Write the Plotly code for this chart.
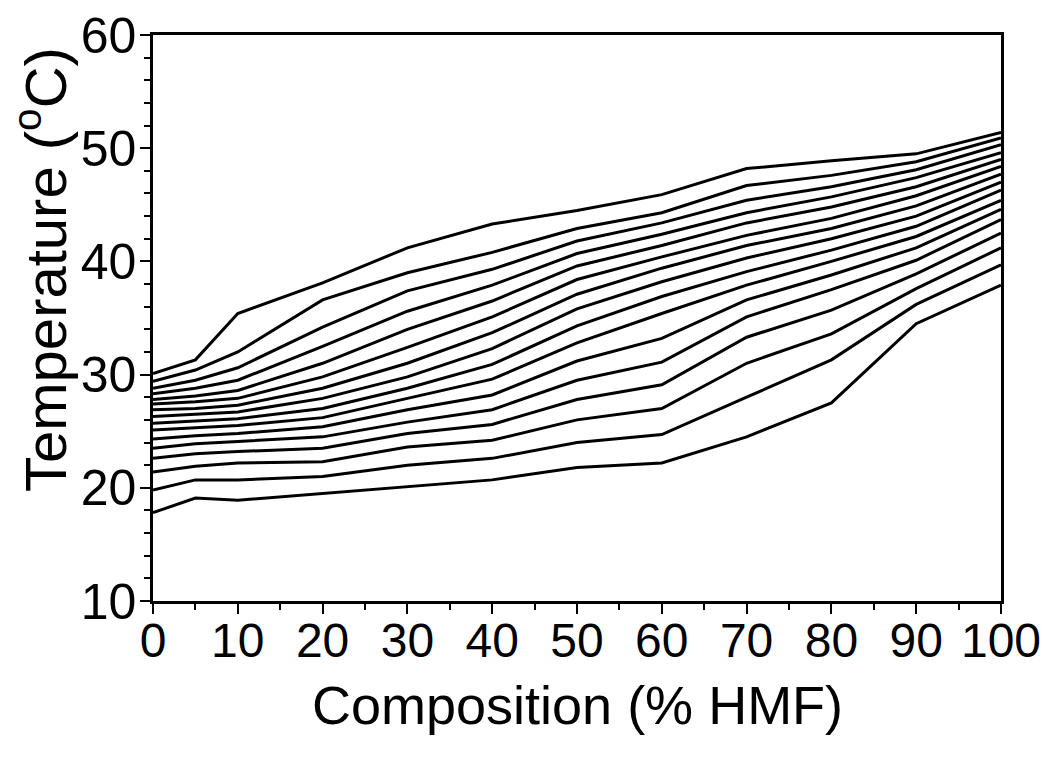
import plotly.graph_objects as go

composition = [0, 5, 10, 20, 30, 40, 50, 60, 70, 80, 90, 100]

# Temperature (°C) curves, bottom to top, one list per curve
c01 = [17.8, 19.1, 18.9, 19.5, 20.1, 20.7, 21.8, 22.2, 24.5, 27.5, 34.5, 37.9]
c02 = [19.8, 20.7, 20.7, 21.0, 22.0, 22.6, 24.0, 24.7, 28.0, 31.3, 36.2, 39.7]
c03 = [21.4, 21.9, 22.2, 22.3, 23.6, 24.2, 26.0, 27.0, 31.0, 33.6, 37.6, 41.2]
c04 = [22.6, 23.0, 23.2, 23.5, 24.8, 25.6, 27.8, 29.1, 33.3, 35.7, 38.9, 42.5]
c05 = [23.5, 23.9, 24.1, 24.5, 25.8, 26.9, 29.5, 31.1, 35.1, 37.5, 40.1, 43.7]
c06 = [24.3, 24.6, 24.8, 25.4, 26.9, 28.2, 31.2, 33.2, 36.6, 38.8, 41.2, 44.6]
c07 = [25.1, 25.3, 25.5, 26.2, 27.9, 29.6, 32.8, 35.4, 37.9, 40.0, 42.2, 45.4]
c08 = [25.7, 25.9, 26.1, 27.0, 28.8, 30.9, 34.3, 36.9, 39.1, 41.0, 43.1, 46.3]
c09 = [26.3, 26.5, 26.7, 27.9, 29.8, 32.3, 35.8, 38.2, 40.3, 42.0, 44.0, 47.0]
c10 = [26.9, 27.0, 27.3, 28.8, 31.0, 33.7, 37.1, 39.4, 41.4, 42.9, 44.9, 47.7]
c11 = [27.4, 27.6, 27.9, 29.8, 32.4, 35.1, 38.4, 40.4, 42.3, 43.8, 45.8, 48.4]
c12 = [27.8, 28.1, 28.6, 31.0, 34.0, 36.5, 39.6, 41.4, 43.4, 44.8, 46.6, 49.0]
c13 = [28.3, 28.8, 29.5, 32.5, 35.6, 37.9, 40.7, 42.4, 44.3, 45.7, 47.4, 49.6]
c14 = [28.8, 29.5, 30.6, 34.2, 37.4, 39.3, 41.8, 43.4, 45.4, 46.6, 48.1, 50.3]
c15 = [29.4, 30.4, 32.0, 36.6, 39.0, 40.8, 42.9, 44.3, 46.7, 47.6, 48.8, 50.9]
c16 = [30.1, 31.3, 35.4, 38.1, 41.2, 43.3, 44.5, 45.9, 48.2, 48.9, 49.5, 51.4]

curves = [c01, c02, c03, c04, c05, c06, c07, c08,
          c09, c10, c11, c12, c13, c14, c15, c16]

x_ticks = [0, 10, 20, 30, 40, 50, 60, 70, 80, 90, 100]
y_ticks = [10, 20, 30, 40, 50, 60]

x_title = "Composition (% HMF)"
y_title = "Temperature (<sup>o</sup>C)"

FONT = "Liberation Sans, Arial, sans-serif"

fig = go.Figure()
for c in curves:
    fig.add_trace(go.Scatter(x=composition, y=c, mode="lines",
                             line=dict(color="black", width=3),
                             showlegend=False, hoverinfo="skip"))

fig.update_layout(
    width=1047, height=759,
    margin=dict(l=153, r=46, t=35, b=158),
    paper_bgcolor="white", plot_bgcolor="white",
    font=dict(family=FONT, color="black"),
    annotations=[
        dict(text=x_title, xref="paper", yref="paper", x=0.5, y=-0.184,
             xanchor="center", yanchor="middle", showarrow=False,
             font=dict(size=54, family=FONT, color="black")),
        dict(text=y_title, xref="paper", yref="paper", x=-0.132, y=0.585,
             xanchor="center", yanchor="middle", showarrow=False, textangle=-90,
             font=dict(size=58, family=FONT, color="black")),
    ],
)

fig.update_xaxes(
    range=[0, 100], tickmode="array", tickvals=x_ticks,
    ticktext=[str(v) for v in x_ticks],
    ticks="outside", ticklen=10, tickwidth=2, tickcolor="black",
    minor=dict(dtick=5, tick0=0, ticks="outside", ticklen=6, tickwidth=2, tickcolor="black", showgrid=False),
    showline=True, linecolor="black", linewidth=2.5, mirror=True,
    showgrid=False, zeroline=False, automargin=False,
    ticklabelstandoff=-14,
    tickfont=dict(size=48, family=FONT, color="black"),
)
fig.update_yaxes(
    range=[10, 60], tickmode="array", tickvals=y_ticks,
    ticktext=[str(v) for v in y_ticks],
    ticks="outside", ticklen=10, tickwidth=2, tickcolor="black",
    minor=dict(dtick=2, tick0=10, ticks="outside", ticklen=6, tickwidth=2, tickcolor="black", showgrid=False),
    showline=True, linecolor="black", linewidth=2.5, mirror=True,
    showgrid=False, zeroline=False, automargin=False,
    ticklabelstandoff=-6,
    tickfont=dict(size=50, family=FONT, color="black"),
)

fig.write_html("out.html")
